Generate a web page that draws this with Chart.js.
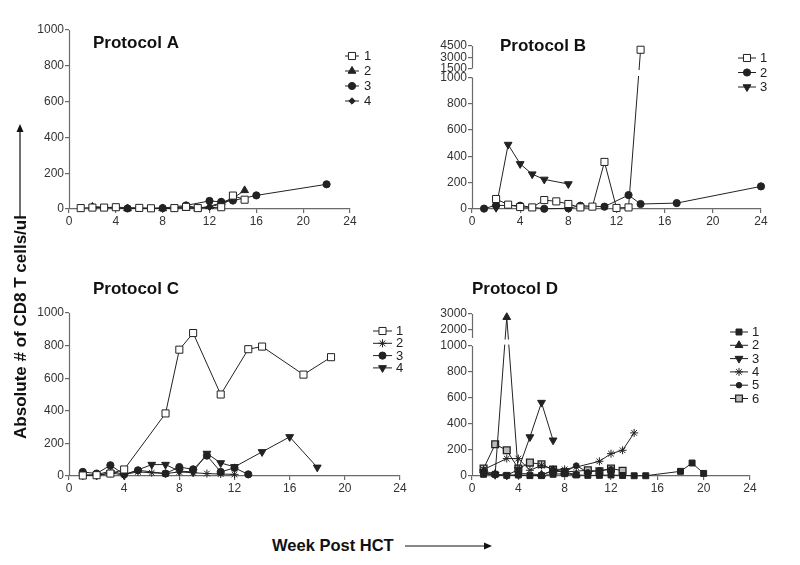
<!DOCTYPE html>
<html>
<head>
<meta charset="utf-8">
<script src="https://cdn.jsdelivr.net/npm/chart.js@4.4.1/dist/chart.umd.min.js"></script>
<style>
html,body{margin:0;padding:0;background:#fff;}
#wrap{position:relative;width:800px;height:565px;overflow:hidden;font-family:"Liberation Sans",Arial,sans-serif;}
canvas{position:absolute;}
#ytitle{position:absolute;left:21px;top:327px;transform:translate(-50%,-50%) rotate(-90deg);white-space:nowrap;font-weight:bold;font-size:17px;color:#111;}
#xtitle{position:absolute;left:272px;top:535px;white-space:nowrap;font-weight:bold;font-size:16.5px;color:#111;line-height:20px;}
svg{position:absolute;left:0;top:0;}
</style>
</head>
<body>
<div id="wrap">
<canvas id="cA" style="left:0;top:0" width="400" height="250"></canvas>
<canvas id="cB" style="left:400px;top:0" width="400" height="250"></canvas>
<canvas id="cC" style="left:0;top:260px" width="420" height="250"></canvas>
<canvas id="cD" style="left:420px;top:260px" width="380" height="250"></canvas>
<div id="ytitle">Absolute # of CD8 T cells/ul</div>
<div id="xtitle">Week Post HCT</div>
<svg width="800" height="565">
<line x1="20" y1="218" x2="20" y2="131" stroke="#111" stroke-width="1.2"/>
<polygon points="20,124 16.5,132 23.5,132" fill="#111"/>
<line x1="405" y1="546" x2="485" y2="546" stroke="#111" stroke-width="1.2"/>
<polygon points="492,546 484,542.5 484,549.5" fill="#111"/>
</svg>
</div>
<script>
// ---------- DATA ----------
const panelTitles = ["Protocol A", "Protocol B", "Protocol C", "Protocol D"];
const xTicks = [0, 4, 8, 12, 16, 20, 24];
const yTicksLow = [0, 200, 400, 600, 800, 1000];
const yTicksUpperB = [1500, 3000, 4500];
const yTicksUpperD = [2000, 3000];

// Protocol A
const weeksA1 = [1, 2, 3, 4, 6, 7, 9, 10, 11, 13, 14, 15];
const valsA1  = [5, 8, 8, 10, 6, 4, 5, 12, 5, 10, 75, 52];
const weeksA2 = [2, 5, 8, 10, 11, 12, 13, 14, 15];
const valsA2  = [12, 3, 3, 5, 3, 15, 35, 60, 104];
const weeksA3 = [5, 8, 10, 12, 13, 14, 16, 22];
const valsA3  = [3, 5, 20, 45, 40, 47, 76, 138];
const weeksA4 = [2, 5, 9, 10, 11, 12, 13, 14];
const valsA4  = [12, 3, 3, 18, 8, 10, 30, 55];

// Protocol B
const weeksB1 = [2, 3, 4, 5, 6, 7, 8, 9, 10, 11, 12, 13, 14];
const valsB1  = [76, 33, 15, 12, 68, 58, 38, 12, 18, 358, 8, 12, 4000];
const weeksB2 = [1, 2, 4, 6, 8, 9, 11, 13, 14, 17, 24];
const valsB2  = [3, 28, 25, 2, 5, 25, 18, 106, 38, 45, 172];
const weeksB3 = [2, 3, 4, 5, 6, 8];
const valsB3  = [10, 490, 343, 265, 225, 190];

// Protocol C
const weeksC1 = [1, 2, 3, 4, 7, 8, 9, 11, 13, 14, 17, 19];
const valsC1  = [3, 5, 15, 40, 384, 775, 877, 500, 778, 794, 622, 729];
const weeksC2 = [1, 2, 3, 4, 5, 6, 7, 8, 9, 10, 11, 12];
const valsC2  = [5, 8, 30, 10, 25, 20, 15, 25, 20, 15, 12, 10];
const weeksC3 = [1, 2, 3, 4, 5, 7, 8, 9, 10, 11, 12, 13];
const valsC3  = [25, 15, 66, 10, 35, 15, 55, 41, 125, 25, 50, 10];
const weeksC4 = [1, 2, 3, 4, 6, 7, 8, 9, 10, 11, 12, 14, 16, 18];
const valsC4  = [5, 3, 20, 5, 70, 70, 30, 25, 138, 80, 56, 148, 240, 53];

// Protocol D
const weeksD1 = [1, 2, 3, 4, 5, 6, 7, 8, 9, 10, 11, 12, 13, 14, 15, 18, 19, 20];
const valsD1  = [13, 13, 5, 8, 3, 3, 13, 18, 8, 5, 5, 8, 4, 2, 2, 36, 100, 20];
const weeksD2 = [1, 2, 3, 4, 6, 7, 8, 9];
const valsD2  = [40, 15, 2800, 20, 10, 40, 30, 10];
const weeksD3 = [1, 2, 3, 4, 5, 6, 7];
const valsD3  = [25, 10, 5, 50, 300, 565, 275];
const weeksD4 = [1, 3, 4, 5, 6, 7, 8, 9, 11, 12, 13, 14];
const valsD4  = [50, 134, 134, 44, 82, 51, 51, 69, 113, 172, 198, 332];
const weeksD5 = [1, 2, 4, 6, 7, 8, 9, 10, 11, 12];
const valsD5  = [20, 8, 5, 5, 45, 30, 80, 28, 44, 51];
const weeksD6 = [1, 2, 3, 4, 5, 6, 7, 8, 10, 11, 12, 13];
const valsD6  = [57, 244, 198, 57, 103, 90, 49, 31, 44, 36, 57, 41];

// ---------- helpers ----------
const FONT = '"Liberation Sans", Arial, sans-serif';
const INK = '#222';
const AXIS = '#6a6a6a';

// broken-axis value transforms (display units on the linear scale)
function dispB(v) { return v <= 1000 ? v : 1068 + (v - 1500) * 0.0571; }
function dispD(v) { return v <= 1000 ? v : 1062 + (v - 1500) * 0.1233; }
function ident(v) { return v; }

const STY = {
  openSq:  {pointStyle: 'rect', radius: 5, rotation: 0, bg: '#fff', bw: 1},
  fillSq:  {pointStyle: 'rect', radius: 4.2, rotation: 0, bg: INK, bw: 1},
  graySq:  {pointStyle: 'rect', radius: 4.8, rotation: 0, bg: '#bbb', bw: 1.3},
  triUp:   {pointStyle: 'triangle', radius: 4.5, rotation: 0, bg: INK, bw: 1},
  triDown: {pointStyle: 'triangle', radius: 4.5, rotation: 180, bg: INK, bw: 1},
  circ:    {pointStyle: 'circle', radius: 3.6, rotation: 0, bg: INK, bw: 1},
  smCirc:  {pointStyle: 'circle', radius: 2.8, rotation: 0, bg: INK, bw: 1},
  diam:    {pointStyle: 'rectRot', radius: 3.2, rotation: 0, bg: INK, bw: 1},
  star:    {pointStyle: 'star', radius: 4, rotation: 0, bg: INK, bw: 1}
};

function ds(label, weeks, vals, sty, tf) {
  return {
    label: label,
    data: weeks.map((w, i) => ({x: w, y: tf(vals[i])})),
    borderColor: INK,
    borderWidth: 1,
    backgroundColor: sty.bg,
    pointBackgroundColor: sty.bg,
    pointBorderColor: INK,
    pointBorderWidth: sty.bw,
    pointStyle: sty.pointStyle,
    pointRadius: sty.radius,
    pointRotation: sty.rotation,
    pointHoverRadius: sty.radius,
    showLine: true,
    tension: 0,
    fill: false,
    clip: false,
    _sty: sty
  };
}

function drawMarker(ctx, sty, x, y) {
  ctx.save();
  ctx.fillStyle = sty.bg;
  ctx.strokeStyle = INK;
  ctx.lineWidth = sty.bw;
  if (Chart.helpers && Chart.helpers.drawPoint) {
    Chart.helpers.drawPoint(ctx, {pointStyle: sty.pointStyle, radius: sty.radius, rotation: sty.rotation, borderWidth: sty.bw}, x, y);
  } else {
    ctx.beginPath(); ctx.arc(x, y, sty.radius, 0, Math.PI * 2); ctx.fill(); ctx.stroke();
  }
  ctx.restore();
}

const customPlugin = {
  id: 'custom',
  afterDatasetsDraw(chart) {
    const o = chart.options.plugins.custom;
    const ctx = chart.ctx, ya = chart.scales.y, ca = chart.chartArea;
    if (o.brk) {
      const p1000 = ya.getPixelForValue(1000);
      const pUp = ya.getPixelForValue(o.brk);
      ctx.save();
      ctx.fillStyle = '#fff';
      ctx.fillRect(ca.left - 1, pUp + 1.5, ca.right - ca.left + 2, p1000 - pUp - 3);
      ctx.restore();
    }
  },
  afterDraw(chart) {
    const o = chart.options.plugins.custom;
    const ctx = chart.ctx, ya = chart.scales.y, ca = chart.chartArea;
    ctx.save();
    ctx.strokeStyle = AXIS; ctx.lineWidth = 1.2;
    const x = Math.round(ca.left) + 0.5;
    ctx.beginPath();
    if (o.brk) {
      ctx.moveTo(x, ya.getPixelForValue(0));
      ctx.lineTo(x, ya.getPixelForValue(1000));
      ctx.moveTo(x, ya.getPixelForValue(o.brk));
      ctx.lineTo(x, ca.top);
    } else {
      ctx.moveTo(x, ya.getPixelForValue(0));
      ctx.lineTo(x, ca.top);
    }
    ctx.stroke();
    ctx.fillStyle = '#111';
    ctx.font = 'bold 17px ' + FONT;
    ctx.textBaseline = 'alphabetic';
    ctx.textAlign = 'left';
    ctx.fillText(o.title, o.tx, o.ty);
    ctx.font = '13px ' + FONT;
    ctx.textBaseline = 'middle';
    chart.data.datasets.forEach((d, i) => {
      const ly = o.ly + i * o.ldy;
      ctx.strokeStyle = INK; ctx.lineWidth = 1;
      ctx.beginPath(); ctx.moveTo(o.lx, ly); ctx.lineTo(o.lx + o.llen, ly); ctx.stroke();
      drawMarker(ctx, d._sty, o.lx + o.llen / 2, ly);
      ctx.fillStyle = INK;
      ctx.fillText(d.label, o.lx + o.llen + o.lgap, ly + 0.5);
    });
    ctx.restore();
  }
};

function makeChart(id, datasets, cfg) {
  const yTickVals = cfg.yTicks;
  return new Chart(document.getElementById(id), {
    type: 'scatter',
    data: {datasets: datasets},
    plugins: [customPlugin],
    options: {
      responsive: false,
      animation: false,
      events: [],
      layout: {padding: {left: 0, top: cfg.padTop, right: cfg.padRight, bottom: 0}},
      plugins: {
        legend: {display: false},
        tooltip: {enabled: false},
        custom: cfg.custom
      },
      scales: {
        x: {
          type: 'linear', min: 0, max: 24,
          afterBuildTicks: (s) => { s.ticks = xTicks.map(v => ({value: v})); },
          afterFit: (s) => { s.height = cfg.xHeight; },
          ticks: {color: '#333', font: {size: 12, family: FONT}, padding: 1, autoSkip: false, maxRotation: 0},
          grid: {display: true, drawOnChartArea: false, drawTicks: true, tickLength: 4, color: AXIS, lineWidth: 1.2},
          border: {display: true, color: AXIS, width: 1.2}
        },
        y: {
          type: 'linear', min: 0, max: cfg.yMax,
          afterBuildTicks: (s) => { s.ticks = yTickVals.map(v => ({value: cfg.tf(v)})); },
          afterFit: (s) => { s.width = cfg.yWidth; },
          ticks: {
            color: '#333', font: {size: 12, family: FONT}, padding: 1, autoSkip: false,
            callback: (val, idx) => String(yTickVals[idx])
          },
          grid: {display: true, drawOnChartArea: false, drawTicks: true, tickLength: 4, color: AXIS, lineWidth: 1.2},
          border: {display: false}
        }
      }
    }
  });
}

makeChart('cA', [
  ds('1', weeksA1, valsA1, STY.openSq, ident),
  ds('2', weeksA2, valsA2, STY.triUp, ident),
  ds('3', weeksA3, valsA3, STY.circ, ident),
  ds('4', weeksA4, valsA4, STY.diam, ident)
], {
  tf: ident, yTicks: yTicksLow, yMax: 1000,
  padTop: 30, padRight: 50, xHeight: 41, yWidth: 69,
  custom: {title: panelTitles[0], tx: 93, ty: 48, lx: 345, llen: 14, lgap: 5, ly: 56, ldy: 15}
});

makeChart('cB', [
  ds('1', weeksB1, valsB1, STY.openSq, dispB),
  ds('2', weeksB2, valsB2, STY.circ, dispB),
  ds('3', weeksB3, valsB3, STY.triDown, dispB)
], {
  tf: dispB, yTicks: yTicksLow.concat(yTicksUpperB), yMax: dispB(4500),
  padTop: 46, padRight: 39, xHeight: 41, yWidth: 72,
  custom: {title: panelTitles[1], tx: 100, ty: 51, lx: 338, llen: 18, lgap: 4, ly: 58, ldy: 14.5, brk: dispB(1500)}
});

makeChart('cC', [
  ds('1', weeksC1, valsC1, STY.openSq, ident),
  ds('2', weeksC2, valsC2, STY.star, ident),
  ds('3', weeksC3, valsC3, STY.circ, ident),
  ds('4', weeksC4, valsC4, STY.triDown, ident)
], {
  tf: ident, yTicks: yTicksLow, yMax: 1000,
  padTop: 53, padRight: 20, xHeight: 34, yWidth: 69,
  custom: {title: panelTitles[2], tx: 93, ty: 34, lx: 373, llen: 19, lgap: 4, ly: 71, ldy: 12.3}
});

makeChart('cD', [
  ds('1', weeksD1, valsD1, STY.fillSq, dispD),
  ds('2', weeksD2, valsD2, STY.triUp, dispD),
  ds('3', weeksD3, valsD3, STY.triDown, dispD),
  ds('4', weeksD4, valsD4, STY.star, dispD),
  ds('5', weeksD5, valsD5, STY.smCirc, dispD),
  ds('6', weeksD6, valsD6, STY.graySq, dispD)
], {
  tf: dispD, yTicks: yTicksLow.concat(yTicksUpperD), yMax: dispD(3000),
  padTop: 54, padRight: 50, xHeight: 34, yWidth: 52,
  custom: {title: panelTitles[3], tx: 52, ty: 34, lx: 310, llen: 18, lgap: 4, ly: 72, ldy: 13.3, brk: dispD(1500)}
});
</script>
</body>
</html>
